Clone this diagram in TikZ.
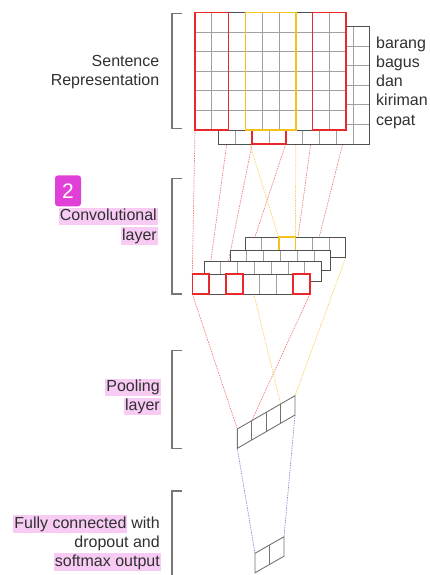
\documentclass[tikz,border=0pt]{standalone}
\usepackage{fontspec}
\setmainfont{Liberation Sans}
\definecolor{boxred}{HTML}{E8282B}
\definecolor{boxyel}{HTML}{F5C21B}
\definecolor{dotred}{HTML}{F08080}
\definecolor{dotyel}{HTML}{F5D266}
\definecolor{dotblue}{HTML}{8396CC}
\definecolor{gridgray}{HTML}{A0A0A0}
\definecolor{framegray}{HTML}{505050}
\definecolor{brackgray}{HTML}{777777}
\definecolor{hlpink}{HTML}{F7CBF4}
\definecolor{badgemag}{HTML}{E040D8}
\definecolor{textgray}{HTML}{303030}
\newcommand\mygrid[6]{% x0 y0 cols rows w h
  \fill[white] (#1,#2) rectangle ({#1+#3*#5},{#2+#4*#6});
  \foreach \i in {1,...,\numexpr#3-1\relax}
    \draw[gridline] ({#1+#5*\i},#2) -- ++(0,{#4*#6});
  \ifnum#4>1
  \foreach \j in {1,...,\numexpr#4-1\relax}
    \draw[gridline] (#1,{#2+#6*\j}) -- ++({#3*#5},0);
  \fi
  \draw[frameline] (#1,#2) rectangle ({#1+#3*#5},{#2+#4*#6});
}
\begin{document}
\begin{tikzpicture}[x=1pt,y=-1pt,
  gridline/.style={draw=gridgray,line width=0.8pt},
  frameline/.style={draw=framegray,line width=1pt},
  redbox/.style={draw=boxred,line width=1.6pt},
  yelbox/.style={draw=boxyel,line width=1.6pt},
  reddot/.style={draw=dotred,line width=0.7pt,dash pattern=on 1.5pt off 1pt},
  yeldot/.style={draw=dotyel,line width=0.7pt,dash pattern=on 1.5pt off 1pt},
  bluedot/.style={draw=dotblue,line width=0.7pt,dash pattern=on 1.5pt off 1pt},
  brack/.style={draw=brackgray,line width=1.1pt},
  lbl/.style={font=\fontsize{16}{19}\selectfont,text=textgray,inner sep=0pt},
  hl/.style={lbl,fill=hlpink,inner xsep=1pt,inner ysep=1pt,text height=12pt,text depth=3.5pt},
  badge/.style={fill=badgemag,rounded corners=3pt,minimum width=26pt,minimum height=31pt,
    text=white,font=\fontsize{21}{21}\selectfont,inner sep=0pt},
]
\useasboundingbox (0,0) rectangle (430,575);

% ---------- named points ----------
\coordinate (r1a) at (195,130.1);   \coordinate (r1b) at (228.6,130.1);
\coordinate (bra) at (252.1,144.1); \coordinate (brb) at (285.7,144.1);
\coordinate (r2a) at (312.6,130.1); \coordinate (r2b) at (346.2,130.1);
\coordinate (ya)  at (245.4,130.1); \coordinate (yb)  at (295.8,130.1);
\coordinate (c4a) at (192.3,274);   \coordinate (c4b) at (209.1,274);
\coordinate (c4c) at (225.9,274);   \coordinate (c4d) at (242.7,274);
\coordinate (c4e) at (293.1,274);   \coordinate (c4f) at (309.9,274);
\coordinate (c1a) at (278.6,237.3); \coordinate (c1b) at (295.4,237.3);
\coordinate (c1c) at (278.6,250);   \coordinate (c1d) at (295.4,250);
\coordinate (c4bl) at (192.3,294);  \coordinate (c4br) at (309.9,294);
\coordinate (c1bl) at (245,257.3);  \coordinate (c1br) at (345.8,257.3);
\coordinate (p0) at (237.3,429);    \coordinate (p1) at (251.7,420.7);
\coordinate (p2) at (266.1,412.4);  \coordinate (p3) at (280.6,404.0);
\coordinate (p4) at (295,395.7);
\coordinate (q0) at (237.3,448.3);  \coordinate (q1) at (251.7,440.0);
\coordinate (q2) at (266.1,431.7);  \coordinate (q3) at (280.6,423.3);
\coordinate (q4) at (295,415);
\coordinate (f0) at (255,553.3);    \coordinate (f1) at (269.5,545.0);
\coordinate (f2) at (284,536.7);
\coordinate (g0) at (255,572.8);    \coordinate (g1) at (269.5,564.5);
\coordinate (g2) at (284,556.2);

% ---------- connectors ----------
\draw[reddot] (r1a) -- (c4a);
\draw[reddot] (r1b) -- (c4b);
\draw[reddot] (bra) -- (c4c);
\draw[reddot] (brb) -- (c4d);
\draw[reddot] (r2a) -- (c4e);
\draw[reddot] (r2b) -- (c4f);
\draw[yeldot] (ya) -- (c1a);
\draw[yeldot] (yb) -- (c1b);
\draw[reddot] (c4bl) -- (p0);
\draw[reddot] (c4br) -- (p1);
\draw[yeldot] (c1bl) -- (p3);
\draw[yeldot] (c1br) -- (p4);
\draw[bluedot] (q0) -- (f0);
\draw[bluedot] (q4) -- (f2);

% ---------- sentence matrix ----------
\mygrid{218.5}{26.5}{9}{6}{16.8}{19.6}
\draw[redbox] (252.1,26.5) rectangle (285.7,144.1);
\mygrid{195}{12.5}{9}{6}{16.8}{19.6}
\draw[redbox] (195,12.5) rectangle (228.6,130.1);
\draw[yelbox] (245.4,12.5) rectangle (295.8,130.1);
\draw[redbox] (312.6,12.5) rectangle (346.2,130.1);

% ---------- conv strips ----------
\mygrid{245}{237.3}{6}{1}{16.8}{20}
\mygrid{230}{250}{6}{1}{16.8}{20}
\mygrid{204}{261.5}{7}{1}{16.8}{20}
\mygrid{192.3}{274}{7}{1}{16.8}{20}
\draw[redbox] (192.3,274) rectangle (209.1,294);
\draw[redbox] (225.9,274) rectangle (242.7,294);
\draw[redbox] (293.1,274) rectangle (309.9,294);

% ---------- pooling ----------
\draw[frameline,line width=0.9pt,draw=framegray!80,fill=white] (p0) -- (p4) -- (q4) -- (q0) -- cycle;
\draw[frameline,line width=0.9pt,draw=framegray!80] (p1) -- (q1) (p2) -- (q2) (p3) -- (q3);

% ---------- fully connected ----------
\draw[frameline,line width=0.9pt,draw=framegray!80,fill=white] (f0) -- (f2) -- (g2) -- (g0) -- cycle;
\draw[frameline,line width=0.9pt,draw=framegray!80] (f1) -- (g1);

% ---------- brackets ----------
\draw[brack] (181.5,13.3) -- (172,13.3) -- (172,128.5) -- (181.5,128.5);
\draw[brack] (181.5,178.3) -- (172,178.3) -- (172,294) -- (181.5,294);
\draw[brack] (181.5,350.7) -- (172,350.7) -- (172,448.3) -- (181.5,448.3);
\draw[brack] (181.5,491) -- (172,491) -- (172,576);

% ---------- labels ----------
\node[lbl,anchor=base east] (sent1) at (159.5,66.7) {Sentence};
\node[lbl,anchor=base east] (sent2) at (159.5,86) {Representation};

\node[lbl,anchor=base west] (w1) at (376,48.3) {barang};
\node[lbl,anchor=base west] (w2) at (376,67.3) {bagus};
\node[lbl,anchor=base west] (w3) at (376,86.5) {dan};
\node[lbl,anchor=base west] (w4) at (376,105.8) {kiriman};
\node[lbl,anchor=base west] (w5) at (376,125) {cepat};

\node[badge] (two) at (68,190.8) {2};
\node[hl,anchor=base east] (conv1) at (158,220.5) {Convolutional};
\node[hl,anchor=base east] (conv2) at (158,240) {layer};

\node[hl,anchor=base east] (pool1) at (161,391.5) {Pooling};
\node[hl,anchor=base east] (pool2) at (161,410.5) {layer};

\node[lbl,anchor=base east] (fcw) at (160,528.3) {with};
\node[hl,anchor=base east] (fc1) at ([xshift=-3.5pt]fcw.base west) {Fully connected};
\node[lbl,anchor=base east] (fc2) at (160,547) {dropout and};
\node[hl,anchor=base east] (fc3) at (161,566.3) {softmax output};

% yellow cell of the back feature map (only its visible part)
\draw[draw=boxyel,line width=1.8pt] (c1c) -- (c1a) -- (c1b) -- (c1d);
\end{tikzpicture}
\end{document}
